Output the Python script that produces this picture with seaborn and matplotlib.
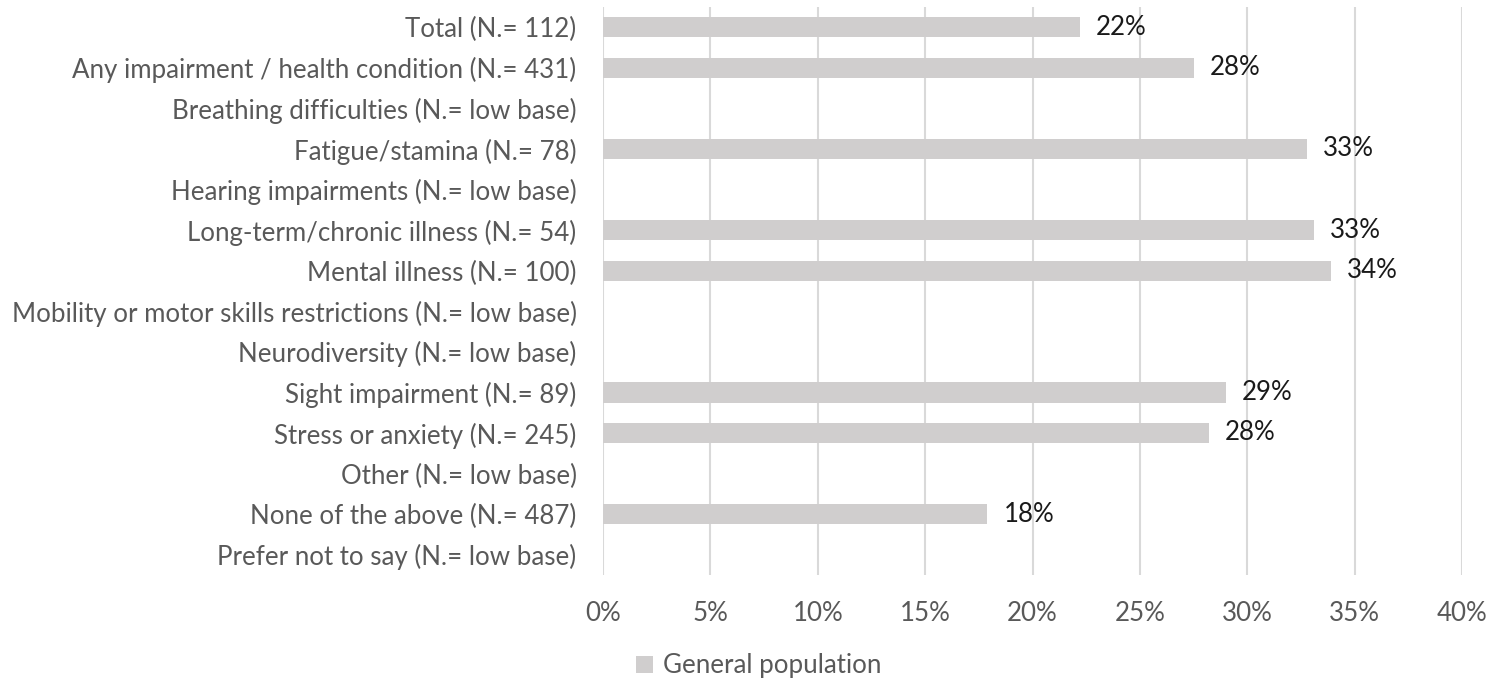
import numpy as np
import pandas as pd
import matplotlib
matplotlib.use("Agg")
import matplotlib.pyplot as plt
import seaborn as sns
from matplotlib.ticker import FuncFormatter, MultipleLocator

categories = [
    "Total (N.= 112)",
    "Any impairment / health condition (N.= 431)",
    "Breathing difficulties (N.= low base)",
    "Fatigue/stamina (N.= 78)",
    "Hearing impairments (N.= low base)",
    "Long-term/chronic illness (N.= 54)",
    "Mental illness (N.= 100)",
    "Mobility or motor skills restrictions (N.= low base)",
    "Neurodiversity (N.= low base)",
    "Sight impairment (N.= 89)",
    "Stress or anxiety (N.= 245)",
    "Other (N.= low base)",
    "None of the above (N.= 487)",
    "Prefer not to say (N.= low base)",
]
values = [0.222, 0.275, np.nan, 0.328, np.nan, 0.331, 0.339, np.nan, np.nan,
          0.290, 0.282, np.nan, 0.179, np.nan]
series_name = "General population"

df = pd.DataFrame({"category": categories, "value": values, "series": series_name})

sns.set_theme(style="white")
plt.rcParams['font.family'] = ['Lato', 'DejaVu Sans']

FS = 18.6

fig = plt.figure(figsize=(14.87, 6.8), dpi=100)
ax = fig.add_axes([603/1487, 1 - 575/680, (1462-603)/1487, (575-7)/680])

sns.barplot(data=df.dropna(), x="value", y="category", hue="series", order=categories,
            palette=["#D0CECE"], width=0.5, orient="h", ax=ax, legend=True,
            saturation=1, linewidth=0)

ax.set_xlim(0, 0.40)
ax.set_ylim(len(categories) - 0.5, -0.5)
ax.xaxis.set_major_locator(MultipleLocator(0.05))
ax.xaxis.set_major_formatter(FuncFormatter(lambda v, p: f"{round(v*100):d}%"))
ax.grid(axis="x", color="#D9D9D9", linewidth=1.5)
ax.set_axisbelow(True)
for s in ax.spines.values():
    s.set_visible(False)
ax.set_xlabel("")
ax.set_ylabel("")
ax.tick_params(axis="both", length=0, labelsize=FS, colors="#595959")
ax.tick_params(axis="x", pad=19)
ax.tick_params(axis="y", pad=19)

for i, v in enumerate(values):
    if not np.isnan(v):
        ax.annotate(f"{round(v*100):d}%", xy=(v, i), xytext=(16, 0),
                    textcoords="offset pixels",
                    ha="left", va="center", fontsize=FS, color="#1a1a1a")

sns.move_legend(ax, "center", bbox_to_anchor=(759/1487, 1 - 666/680),
                bbox_transform=fig.transFigure, frameon=False, title=None,
                fontsize=FS, handlelength=0.65, handleheight=0.65, handletextpad=0.4)
for t in ax.get_legend().get_texts():
    t.set_color("#595959")

fig.savefig("out.png", dpi=100)
